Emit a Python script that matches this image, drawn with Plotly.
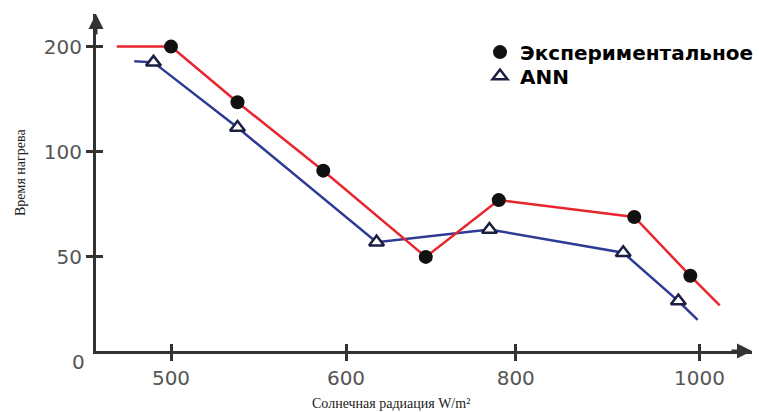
import numpy as np
import plotly.graph_objects as go

# ---- axis labelling (the original axes are not drawn to scale) ----
X_TICK_LABELS = [500, 600, 800, 1000]
X_TICK_POS = [0.0, 1.0, 1.97, 3.02]
Y_TICK_LABELS = [0, 50, 100, 200]
Y_TICK_POS = [0.0, 1.0, 2.0, 3.0]

# ---- data ----
exp_x = [469, 500, 538, 587, 694, 780, 929, 990, 1022]
exp_y = [200, 200, 147, 91, 50, 77, 69, 41, 27]
exp_marker_idx = [1, 2, 3, 4, 5, 6, 7]

ann_x = [479, 490, 538, 636, 769, 917, 977, 998]
ann_y = [186, 185, 123, 57, 63, 52, 29, 20]
ann_marker_idx = [1, 2, 3, 4, 5, 6]

EXP_NAME = "Экспериментальное"
ANN_NAME = "ANN"
X_TITLE = "Солнечная радиация W/m²"
Y_TITLE = "Время нагрева"


def to_axis(vals, labels, pos):
    v = np.asarray(vals, dtype=float)
    out = np.interp(v, labels, pos)
    lo = (pos[1] - pos[0]) / (labels[1] - labels[0])
    hi = (pos[-1] - pos[-2]) / (labels[-1] - labels[-2])
    out = np.where(v < labels[0], pos[0] + (v - labels[0]) * lo, out)
    out = np.where(v > labels[-1], pos[-1] + (v - labels[-1]) * hi, out)
    return out


ex = to_axis(exp_x, X_TICK_LABELS, X_TICK_POS)
ey = to_axis(exp_y, Y_TICK_LABELS, Y_TICK_POS)
ax_ = to_axis(ann_x, X_TICK_LABELS, X_TICK_POS)
ay_ = to_axis(ann_y, Y_TICK_LABELS, Y_TICK_POS)

RED = "#e8262d"
BLUE = "#2e3a94"

fig = go.Figure()
fig.add_trace(go.Scatter(x=ax_, y=ay_, mode="lines", line=dict(color=BLUE, width=2.5),
                         showlegend=False, hoverinfo="skip"))
fig.add_trace(go.Scatter(x=ex, y=ey, mode="lines", line=dict(color=RED, width=2.5),
                         showlegend=False, hoverinfo="skip"))
fig.add_trace(go.Scatter(x=ex[exp_marker_idx], y=ey[exp_marker_idx], mode="markers", name=EXP_NAME,
                         legend="legend",
                         marker=dict(symbol="circle", size=14, color="#111111",
                                     line=dict(width=0))))
fig.add_trace(go.Scatter(x=ax_[ann_marker_idx], y=ay_[ann_marker_idx], mode="markers", name=ANN_NAME,
                         legend="legend2",
                         marker=dict(symbol="triangle-up", size=13, color="#ffffff",
                                     line=dict(width=2.5, color="#1c2040"))))
# helper trace for the overlaid tick axes
fig.add_trace(go.Scatter(x=[None], y=[None], xaxis="x2", yaxis="y2", showlegend=False,
                         hoverinfo="skip"))

XR = [-0.4286, 3.32]
YR = [0.105, 3.31]
AXC = "#333333"
tickfont = dict(family="DejaVu Sans", size=20, color="#555555")
legfont = dict(family="DejaVu Sans", size=20, color="#000000", weight="bold")

fig.update_layout(
    width=759, height=412,
    margin=dict(l=96, r=7, t=14, b=61, autoexpand=False),
    paper_bgcolor="white", plot_bgcolor="white",
    xaxis=dict(range=XR, tickvals=X_TICK_POS, ticktext=[str(v) for v in X_TICK_LABELS],
               showgrid=False, zeroline=False, showline=True, linecolor=AXC, linewidth=3,
               ticks="outside", ticklen=7, tickwidth=3, tickcolor=AXC, tickfont=tickfont),
    yaxis=dict(range=YR, tickvals=Y_TICK_POS[1:], ticktext=[str(v) for v in Y_TICK_LABELS[1:]],
               showgrid=False, zeroline=False, showline=True, linecolor=AXC, linewidth=3,
               ticks="outside", ticklen=7, tickwidth=3, tickcolor=AXC, tickfont=tickfont),
    xaxis2=dict(range=XR, overlaying="x", anchor="y2", side="bottom", tickvals=X_TICK_POS,
                showticklabels=False, showgrid=False, zeroline=False, showline=False,
                ticks="inside", ticklen=7, tickwidth=3, tickcolor=AXC),
    yaxis2=dict(range=YR, overlaying="y", anchor="x2", side="left", tickvals=Y_TICK_POS[1:],
                showticklabels=False, showgrid=False, zeroline=False, showline=False,
                ticks="inside", ticklen=7, tickwidth=3, tickcolor=AXC),
    legend=dict(x=0.5854, y=0.887, xanchor="left", yanchor="middle", bgcolor="rgba(0,0,0,0)",
                font=legfont, itemwidth=30),
    legend2=dict(x=0.5854, y=0.816, xanchor="left", yanchor="middle", bgcolor="rgba(0,0,0,0)",
                 font=legfont, itemwidth=30),
    showlegend=True,
)

zero_y_paper = (Y_TICK_POS[0] - YR[0]) / (YR[1] - YR[0])
fig.add_annotation(xref="paper", yref="paper", x=-0.013, y=zero_y_paper, text=str(Y_TICK_LABELS[0]),
                   showarrow=False, xanchor="right", yanchor="middle", font=tickfont)
fig.add_annotation(xref="paper", yref="paper", x=-0.1159, y=0.531, text=Y_TITLE, textangle=-90,
                   showarrow=False, xanchor="center", yanchor="middle",
                   font=dict(family="Liberation Serif", size=14, color="#222222"))
fig.add_annotation(xref="paper", yref="paper", x=0.4497, y=-0.157, text=X_TITLE,
                   showarrow=False, xanchor="center", yanchor="middle",
                   font=dict(family="Liberation Serif", size=14, color="#222222"))
# axis arrow heads
fig.add_annotation(xref="paper", yref="paper", x=0, y=1, ax=0, ay=22, text="", showarrow=True,
                   arrowhead=2, arrowsize=1, arrowwidth=3, arrowcolor=AXC, standoff=0)
fig.add_annotation(xref="paper", yref="paper", x=1, y=0, ax=-22, ay=0, text="", showarrow=True,
                   arrowhead=2, arrowsize=1, arrowwidth=3, arrowcolor=AXC, standoff=0)

fig.write_html("out.html", post_script="document.body.style.margin='0';",
               config={"displayModeBar": False})
